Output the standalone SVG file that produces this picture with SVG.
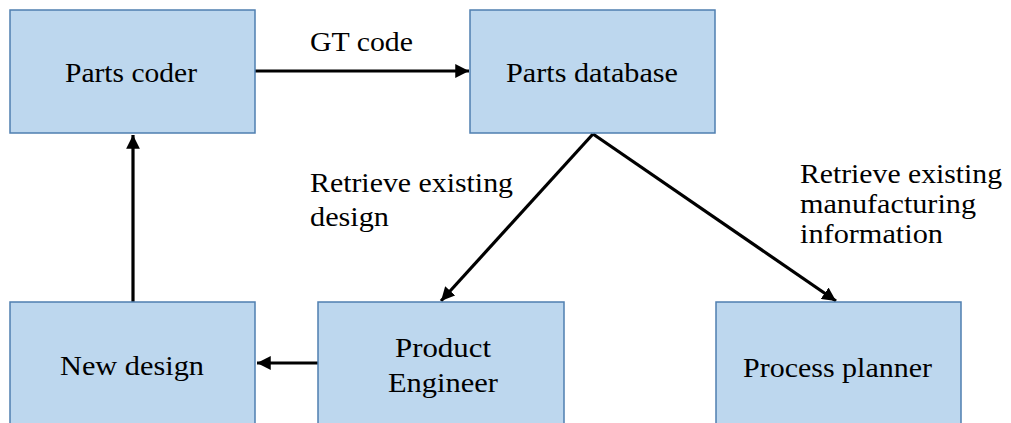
<svg xmlns="http://www.w3.org/2000/svg" width="1011" height="423" viewBox="0 0 1011 423">
  <style>
    .box { fill: #bdd7ee; stroke: #4f7fb0; stroke-width: 1.5; }
    .lbl { font-family: "Liberation Serif", "DejaVu Serif", Tinos, "Nimbus Roman", FreeSerif, "Noto Serif", Times, serif; font-size: 27px; fill: #000; }
    .wire { fill: none; stroke: #000; stroke-width: 3.2; }
  </style>
  <defs>
    <marker id="head" viewBox="0 0 10 10" refX="10" refY="5" markerWidth="4.3" markerHeight="4.3" markerUnits="strokeWidth" orient="auto">
      <path d="M0,0 L10,5 L0,10 Z" fill="#000"/>
    </marker>
  </defs>
  <rect width="1011" height="423" fill="#fff"/>

  <g id="connectors">
    <line class="wire" x1="255" y1="71" x2="469" y2="71" marker-end="url(#head)"/>
    <line class="wire" x1="133" y1="302" x2="133" y2="135" marker-end="url(#head)"/>
    <line class="wire" x1="318" y1="363" x2="257" y2="363" marker-end="url(#head)"/>
    <line class="wire" x1="593" y1="134" x2="441" y2="301" marker-end="url(#head)"/>
    <line class="wire" x1="593" y1="134" x2="836" y2="301" marker-end="url(#head)"/>
    <text class="lbl" x="310" y="51" textLength="103" lengthAdjust="spacingAndGlyphs">GT code</text>
    <text class="lbl" x="310" y="192" textLength="203" lengthAdjust="spacingAndGlyphs">Retrieve existing</text>
    <text class="lbl" x="310" y="226" textLength="79" lengthAdjust="spacingAndGlyphs">design</text>
    <text class="lbl" x="800" y="183" textLength="202" lengthAdjust="spacingAndGlyphs">Retrieve existing</text>
    <text class="lbl" x="800" y="213" textLength="176" lengthAdjust="spacingAndGlyphs">manufacturing</text>
    <text class="lbl" x="800" y="243" textLength="143" lengthAdjust="spacingAndGlyphs">information</text>
  </g>

  <g id="parts-coder">
    <rect class="box" x="10" y="10" width="245" height="123"/>
    <text class="lbl" x="65" y="82" textLength="132" lengthAdjust="spacingAndGlyphs">Parts coder</text>
  </g>
  <g id="parts-database">
    <rect class="box" x="470" y="10" width="245" height="123"/>
    <text class="lbl" x="506" y="82" textLength="172" lengthAdjust="spacingAndGlyphs">Parts database</text>
  </g>
  <g id="new-design">
    <rect class="box" x="10" y="302" width="245" height="140"/>
    <text class="lbl" x="60" y="375" textLength="144" lengthAdjust="spacingAndGlyphs">New design</text>
  </g>
  <g id="product-engineer">
    <rect class="box" x="318" y="302" width="246" height="140"/>
    <text class="lbl" x="395" y="357" textLength="96" lengthAdjust="spacingAndGlyphs">Product</text>
    <text class="lbl" x="388" y="392" textLength="110" lengthAdjust="spacingAndGlyphs">Engineer</text>
  </g>
  <g id="process-planner">
    <rect class="box" x="716" y="302" width="245" height="140"/>
    <text class="lbl" x="743" y="377" textLength="189" lengthAdjust="spacingAndGlyphs">Process planner</text>
  </g>
</svg>
